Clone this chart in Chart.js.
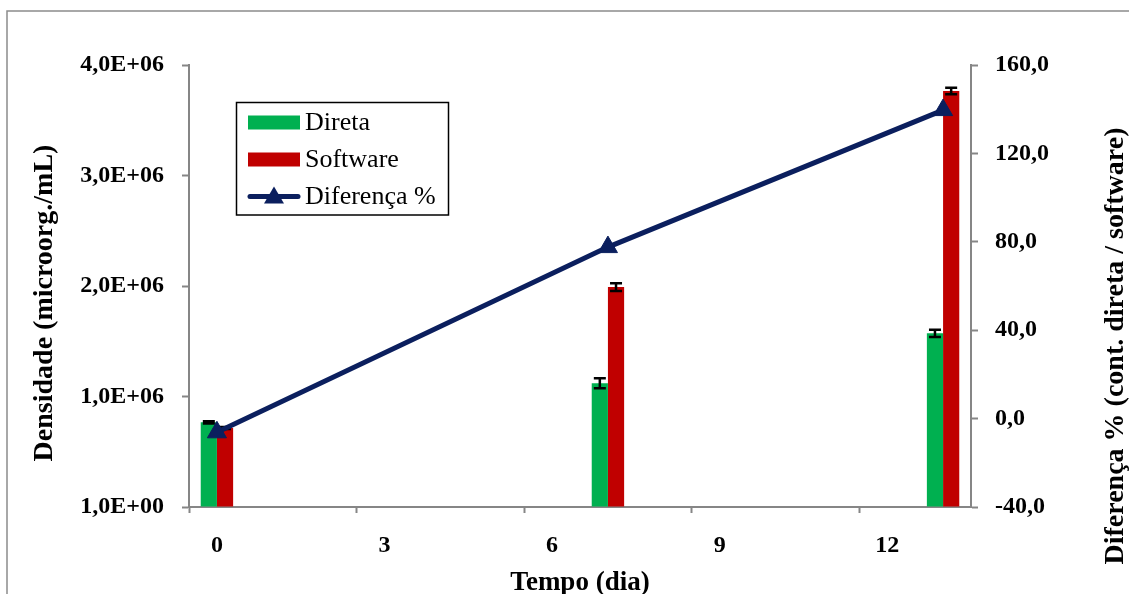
<!DOCTYPE html>
<html>
<head>
<meta charset="utf-8">
<script src="https://cdn.jsdelivr.net/npm/chart.js@4.4.0/dist/chart.umd.min.js"></script>
<style>
html, body { margin: 0; padding: 0; background: #fff; }
#wrap { width: 1129px; height: 594px; position: relative; }
</style>
</head>
<body>
<div id="wrap"><canvas id="grafico"></canvas></div>
<script>
// dados
var categorias = ['0', '1', '2', '3', '4', '5', '6', '7', '8', '9', '10', '11', '12', '13'];
var dias = ['0', '7', '13'];
var direta = [766000, 1120000, 1572000];
var software = [715000, 1990000, 3765000];
var erroDireta = [10000, 45000, 33000];
var erroSoftware = [10000, 35000, 30000];
var diferenca = [-6.2, 77.6, 139.6];

// rotulos dos eixos
var rotulosX = ['0', '3', '6', '9', '12'];
var rotulosEsq = ['1,0E+00', '1,0E+06', '2,0E+06', '3,0E+06', '4,0E+06'];
var rotulosDir = ['-40,0', '0,0', '40,0', '80,0', '120,0', '160,0'];

var cinza = '#868686';
var verde = '#00B050';
var vermelho = '#C00000';
var azul = '#0b1f5e';
var fonte = 'Liberation Serif';

function pares(valores) {
    return dias.map(function (d, i) { return { x: d, y: valores[i] }; });
}

// moldura externa e fundo
var moldura = {
    id: 'moldura',
    beforeDraw: function (chart) {
        var ctx = chart.ctx;
        ctx.save();
        ctx.fillStyle = '#fff';
        ctx.fillRect(0, 0, chart.width, chart.height);
        ctx.strokeStyle = '#8c8c8c';
        ctx.lineWidth = 1.5;
        ctx.strokeRect(7, 11, chart.width + 20, chart.height + 20);
        ctx.restore();
    }
};

// barras de erro
var barrasErro = {
    id: 'barrasErro',
    afterDatasetDraw: function (chart, args) {
        var ds = chart.data.datasets[args.index];
        if (!ds.erros) return;
        var ctx = chart.ctx;
        var y = chart.scales.y;
        ctx.save();
        ctx.strokeStyle = '#000';
        ctx.lineWidth = 2.5;
        args.meta.data.forEach(function (el, i) {
            var v = ds.data[i].y;
            var e = ds.erros[i];
            var t = y.getPixelForValue(v + e);
            var b = y.getPixelForValue(v - e);
            ctx.beginPath();
            ctx.moveTo(el.x, t); ctx.lineTo(el.x, b);
            ctx.moveTo(el.x - 6, t); ctx.lineTo(el.x + 6, t);
            ctx.moveTo(el.x - 6, b); ctx.lineTo(el.x + 6, b);
            ctx.stroke();
        });
        ctx.restore();
    }
};

// titulos verticais dos eixos
var titulosY = {
    id: 'titulosY',
    afterDraw: function (chart) {
        var ctx = chart.ctx;
        ctx.save();
        ctx.fillStyle = '#000';
        ctx.font = 'bold 28px "' + fonte + '"';
        ctx.textAlign = 'center';
        ctx.textBaseline = 'alphabetic';
        ctx.save();
        ctx.translate(52, 303);
        ctx.rotate(-Math.PI / 2);
        ctx.fillText('Densidade (microorg./mL)', 0, 0);
        ctx.restore();
        ctx.save();
        ctx.translate(1123, 346);
        ctx.rotate(-Math.PI / 2);
        ctx.fillText('Diferença % (cont. direta / software)', 0, 0);
        ctx.restore();
        ctx.restore();
    }
};

// legenda dentro da area do grafico
var legenda = {
    id: 'legenda',
    afterDraw: function (chart) {
        var ctx = chart.ctx;
        var dsets = chart.data.datasets;
        ctx.save();
        ctx.fillStyle = '#fff';
        ctx.fillRect(236.5, 102.5, 212, 112.5);
        ctx.strokeStyle = '#000';
        ctx.lineWidth = 1.5;
        ctx.strokeRect(236.5, 102.5, 212, 112.5);
        ctx.font = '26px "' + fonte + '"';
        ctx.textBaseline = 'middle';
        ctx.textAlign = 'left';
        var linhas = [122.5, 159.5, 196.5];
        [1, 2, 0].forEach(function (k, j) {
            var ds = dsets[k];
            var cy = linhas[j];
            if (ds.type === 'line') {
                ctx.strokeStyle = ds.borderColor;
                ctx.lineWidth = 5;
                ctx.lineCap = 'round';
                ctx.beginPath();
                ctx.moveTo(250, cy); ctx.lineTo(298, cy);
                ctx.stroke();
                ctx.fillStyle = ds.borderColor;
                ctx.beginPath();
                ctx.moveTo(274, cy - 10);
                ctx.lineTo(284, cy + 7);
                ctx.lineTo(264, cy + 7);
                ctx.closePath();
                ctx.fill();
            } else {
                ctx.fillStyle = ds.backgroundColor;
                ctx.fillRect(248, cy - 7, 52, 14);
            }
            ctx.fillStyle = '#000';
            ctx.fillText(ds.label, 305, cy + 1);
        });
        ctx.restore();
    }
};

var ctx = document.getElementById('grafico');

var grafico = new Chart(ctx, {
    data: {
        labels: categorias,
        datasets: [{
            type: 'line',
            label: 'Diferença %',
            data: pares(diferenca),
            yAxisID: 'y1',
            borderColor: azul,
            backgroundColor: azul,
            borderWidth: 5,
            pointStyle: 'triangle',
            pointRadius: 11,
            pointBackgroundColor: azul,
            pointBorderColor: azul,
            pointBorderWidth: 1,
            tension: 0,
            order: 0
        }, {
            type: 'bar',
            label: 'Direta',
            data: pares(direta),
            erros: erroDireta,
            yAxisID: 'y',
            backgroundColor: verde,
            categoryPercentage: 0.58,
            barPercentage: 1.0,
            order: 1
        }, {
            type: 'bar',
            label: 'Software',
            data: pares(software),
            erros: erroSoftware,
            yAxisID: 'y',
            backgroundColor: vermelho,
            categoryPercentage: 0.58,
            barPercentage: 1.0,
            order: 1
        }]
    },
    options: {
        responsive: true,
        maintainAspectRatio: false,
        animation: false,
        layout: { padding: { top: 65, left: 0, right: 0, bottom: 0 } },
        plugins: {
            legend: { display: false },
            tooltip: { enabled: false }
        },
        scales: {
            x: {
                type: 'category',
                offset: true,
                grid: {
                    display: true,
                    drawOnChartArea: false,
                    offset: true,
                    tickLength: 6,
                    tickWidth: 2,
                    tickColor: function (c) {
                        return (c.index !== undefined && c.index % 3 === 0) ? cinza : 'rgba(0,0,0,0)';
                    }
                },
                border: { color: cinza, width: 2 },
                ticks: {
                    autoSkip: false,
                    maxRotation: 0,
                    padding: 18,
                    color: '#000',
                    font: { family: fonte, size: 24, weight: 'bold' },
                    callback: function (v, i) {
                        return i % 3 === 0 ? rotulosX[i / 3] : '';
                    }
                },
                title: {
                    display: true,
                    text: 'Tempo (dia)',
                    color: '#000',
                    font: { family: fonte, size: 27, weight: 'bold' },
                    padding: { top: 0, bottom: -5 }
                },
                afterFit: function (s) { s.height = 87; }
            },
            y: {
                position: 'left',
                min: 0,
                max: 4000000,
                grid: { drawOnChartArea: false, tickLength: 7, tickWidth: 2, tickColor: cinza },
                border: { color: cinza, width: 2 },
                ticks: {
                    stepSize: 1000000,
                    padding: 18,
                    color: '#000',
                    font: { family: fonte, size: 24, weight: 'bold' },
                    callback: function (v, i) { return rotulosEsq[i]; }
                },
                afterFit: function (s) { s.width = 189; }
            },
            y1: {
                position: 'right',
                min: -40,
                max: 160,
                grid: { drawOnChartArea: false, tickLength: 7, tickWidth: 2, tickColor: cinza },
                border: { color: cinza, width: 2 },
                ticks: {
                    stepSize: 40,
                    padding: 17,
                    color: '#000',
                    font: { family: fonte, size: 24, weight: 'bold' },
                    callback: function (v, i) { return rotulosDir[i]; }
                },
                afterFit: function (s) { s.width = 158; }
            }
        }
    },
    plugins: [moldura, barrasErro, titulosY, legenda]
});
</script>
</body>
</html>
